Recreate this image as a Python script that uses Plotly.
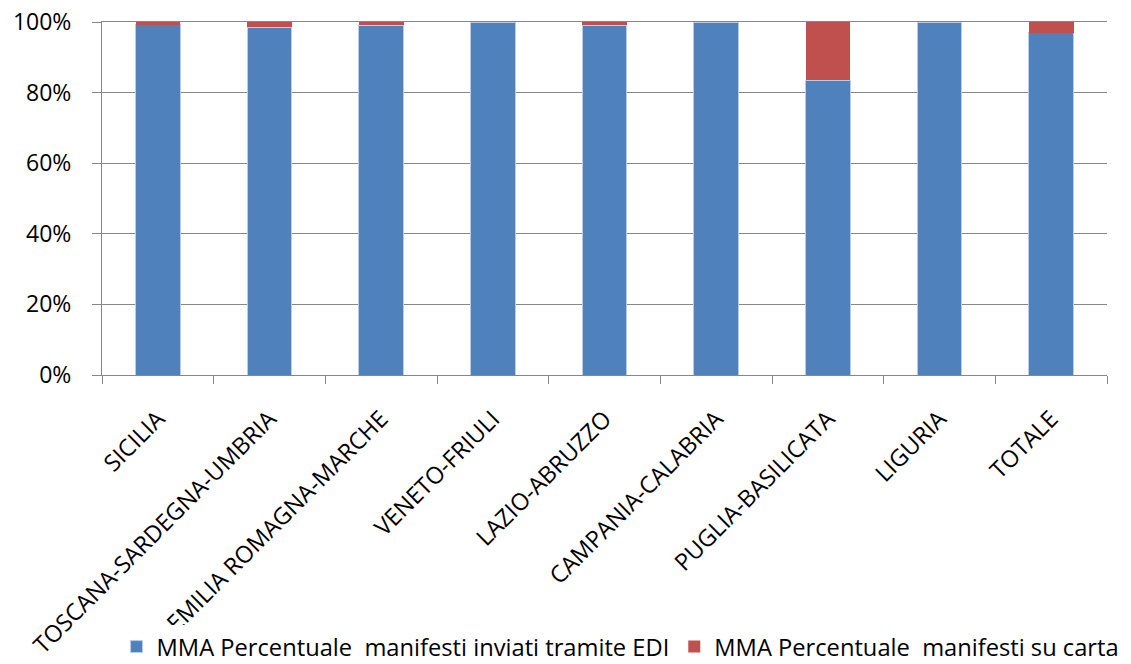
import plotly.graph_objects as go

categories = ["SICILIA", "TOSCANA-SARDEGNA-UMBRIA", "EMILIA ROMAGNA-MARCHE", "VENETO-FRIULI",
              "LAZIO-ABRUZZO", "CAMPANIA-CALABRIA", "PUGLIA-BASILICATA", "LIGURIA", "TOTALE"]
edi_pct = [99.2, 98.5, 99.05, 100.0, 99.15, 100.0, 83.5, 100.0, 96.9]
carta_pct = [0.8, 1.5, 0.95, 0.0, 0.85, 0.0, 16.5, 0.0, 3.1]
series_names = ["MMA Percentuale  manifesti inviati tramite EDI", "MMA Percentuale  manifesti su carta"]
y_ticks = [0, 20, 40, 60, 80, 100]
y_tick_labels = ["0%", "20%", "40%", "60%", "80%", "100%"]

FONT = "Open Sans, Lato, sans-serif"

fig = go.Figure()
fig.add_trace(go.Bar(x=categories, y=edi_pct, name=series_names[0],
                     marker=dict(color="#4F81BD", line=dict(color="#B9CDE5", width=1))))
fig.add_trace(go.Bar(x=categories, y=carta_pct, name=series_names[1],
                     marker=dict(color="#C0504D", line=dict(width=0))))

fig.update_layout(
    barmode="stack",
    bargap=0.6,
    width=1131, height=664,
    margin=dict(l=94, r=32, t=14, b=297),
    plot_bgcolor="white", paper_bgcolor="white",
    font=dict(family=FONT, color="black"),
    showlegend=True,
    legend=dict(orientation="h", x=0.5416, xanchor="center", xref="container",
                y=0.005, yref="container", yanchor="bottom",
                font=dict(size=23.7, family=FONT), traceorder="normal",
                itemwidth=30),
)
fig.update_yaxes(range=[0, 100], tickvals=y_ticks, ticktext=y_tick_labels,
                 showgrid=True, gridcolor="#878787", gridwidth=1,
                 showline=True, linecolor="#878787", linewidth=1,
                 ticks="outside", ticklen=9, tickcolor="#878787",
                 ticklabelstandoff=16, ticklabeloverflow="allow",
                 tickfont=dict(size=23, family=FONT), zeroline=False, automargin=False)
fig.update_xaxes(showline=True, mirror=True, linecolor="#878787", linewidth=1,
                 ticks="outside", ticklen=8, tickcolor="#878787", tickson="boundaries",
                 tickangle=-45, tickfont=dict(size=23.4, family=FONT), showgrid=False,
                 ticklabelstandoff=20, ticklabeloverflow="allow", automargin=False)

fig.write_html("out.html")
